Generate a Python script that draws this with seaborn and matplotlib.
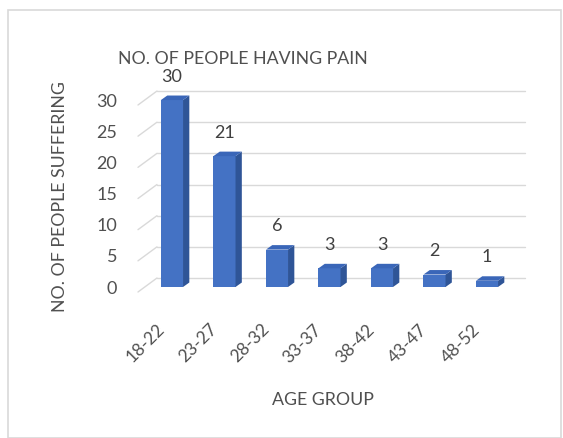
import numpy as np
import matplotlib
matplotlib.use("Agg")
import matplotlib.pyplot as plt
import matplotlib.transforms as mtransforms
from matplotlib.patches import Polygon, Rectangle
import seaborn as sns

age_groups = ["18-22", "23-27", "28-32", "33-37", "38-42", "43-47", "48-52"]
people = [30, 21, 6, 3, 3, 2, 1]
y_ticks = [0, 5, 10, 15, 20, 25, 30]

sns.set_theme(style="white")
plt.rcParams["font.family"] = ["Lato", "DejaVu Sans"]

text_gray = "#505050"
front_col = "#4472C4"
side_col = "#2F5597"
top_col = "#3A66B8"
grid_col = "#D9D9D9"

W, H = 563, 438
fig = plt.figure(figsize=(W / 100, H / 100), dpi=100)

# axes placed in pixels so the pseudo-3D layout lines up
px_x, px_y = 52.5, 6.233     # pixels per category / per unit
x0_px, y0_px = 172, 287      # first bar centre, bar floor
xlim = (-0.952, 6.9)
ylim = (-2.5, 33)
left = x0_px + xlim[0] * px_x
right = x0_px + xlim[1] * px_x
bottom = y0_px - ylim[0] * px_y
top = y0_px - ylim[1] * px_y
ax = fig.add_axes([left / W, (H - bottom) / H, (right - left) / W, (bottom - top) / H])

# outer chart border
fig.patches.append(Rectangle((8 / W, 0.5 / H), 553 / W, 427.5 / H, transform=fig.transFigure,
                             fill=False, edgecolor="#D9D9D9", linewidth=1.2))

# back-wall gridlines with a perspective stub on the left
back_dy = 9 / px_y
front_dy = -5 / px_y
for v in y_ticks:
    ax.plot([-0.648, -0.286], [v + front_dy, v + back_dy], color=grid_col, lw=1, clip_on=False, zorder=0)
    ax.plot([-0.286, 6.72], [v + back_dy, v + back_dy], color=grid_col, lw=1, clip_on=False, zorder=0)

sns.barplot(x=age_groups, y=people, color=front_col, saturation=1, width=0.42,
            edgecolor="none", ax=ax, zorder=2)

# side and top faces for the 3D look
dx, dy = 0.12, 0.72
for p in ax.patches:
    bx, bw, bh = p.get_x(), p.get_width(), p.get_height()
    side = [(bx + bw, 0), (bx + bw + dx, dy), (bx + bw + dx, bh + dy), (bx + bw, bh)]
    topf = [(bx, bh), (bx + dx, bh + dy), (bx + bw + dx, bh + dy), (bx + bw, bh)]
    ax.add_patch(Polygon(side, closed=True, facecolor=side_col, edgecolor="none", zorder=3))
    ax.add_patch(Polygon(topf, closed=True, facecolor=top_col, edgecolor="none", zorder=3))

ax.bar_label(ax.containers[0], labels=[str(v) for v in people], padding=11,
             fontsize=13, color="#404040")

ax.set_xlim(*xlim)
ax.set_ylim(*ylim)
ax.set_yticks(y_ticks)
ax.set_yticklabels([str(v) for v in y_ticks], fontsize=13, color=text_gray)
ax.tick_params(axis="y", length=0, pad=3.6)
ax.set_xticks(range(len(age_groups)))
ax.set_xticklabels(age_groups, rotation=45, ha="right", va="center",
                   rotation_mode="anchor", fontsize=12.5, color=text_gray)
ax.tick_params(axis="x", length=0, pad=17.5)
shift = mtransforms.ScaledTranslation(-0.10, 0, fig.dpi_scale_trans)
for lab in ax.get_xticklabels():
    lab.set_transform(lab.get_transform() + shift)

for s in ax.spines.values():
    s.set_visible(False)
ax.set_xlabel("")
ax.set_ylabel("")
ax.patch.set_alpha(0)

fig.text(243 / W, 1 - 59 / H, "NO. OF PEOPLE HAVING PAIN", ha="center", va="center",
         fontsize=12.8, color=text_gray)
fig.text(323 / W, 1 - 400 / H, "AGE GROUP", ha="center", va="center",
         fontsize=12.8, color=text_gray)
fig.text(60 / W, 1 - 197 / H, "NO. OF PEOPLE SUFFERING", ha="center", va="center",
         rotation=90, fontsize=12.8, color=text_gray)

fig.savefig("out.png", dpi=100, facecolor="white")
